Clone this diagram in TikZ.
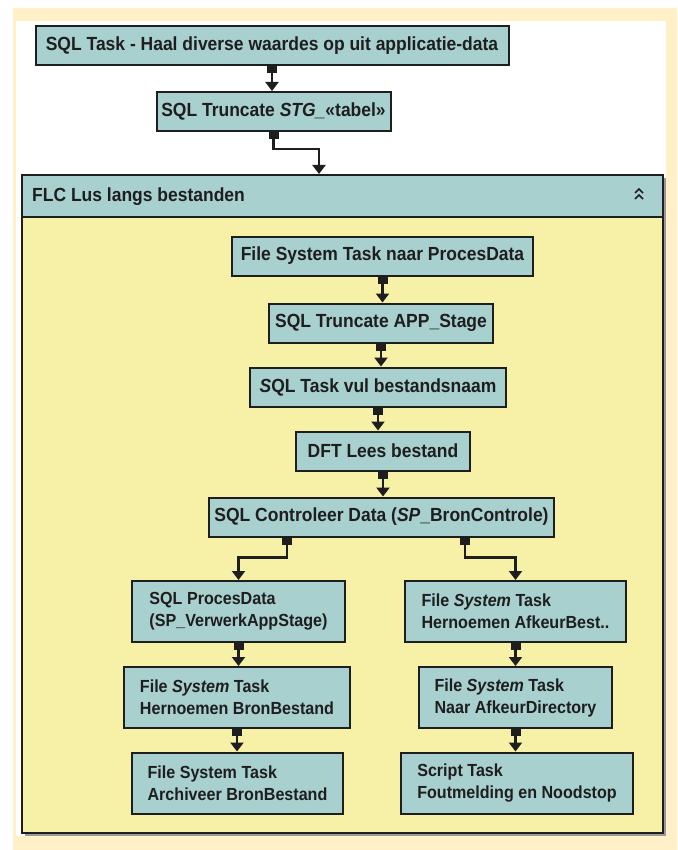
\documentclass[tikz,border=0pt]{standalone}
\usepackage{fontspec}
\setmainfont{Liberation Sans}[FakeStretch=0.92]
\usetikzlibrary{arrows.meta}

\definecolor{cream}{HTML}{FFF0C8}
\definecolor{tealbox}{HTML}{A8D0CE}
\definecolor{paleyel}{HTML}{F6F1A6}
\definecolor{ink}{HTML}{1E1E1E}

\begin{document}
\begin{tikzpicture}[x=1pt, y=-1pt,
  task/.style={draw=ink, line width=2pt, fill=tealbox, text=ink,
    font=\bfseries\fontsize{19}{22}\selectfont, inner sep=0pt, minimum height=39pt},
  twoline/.style={task, align=left, font=\bfseries\fontsize{17.5}{22}\selectfont, minimum height=61pt},
  flow/.style={draw=ink, line width=2.2pt,
    arrows={Square[length=7pt,width=10pt]-Triangle[width=13pt,length=9pt]}}]
  % frame
  \fill[white] (0,0) rectangle (677,850);
  \fill[cream] (13,8) rectangle (677,850);
  \fill[white] (16,21) rectangle (666,836);
  % top tasks
  \node[task, minimum width=473pt] (sqltask) at (272,46) {SQL Task - Haal diverse waardes op uit applicatie-data};
  \node[task, minimum width=234pt] (sqltrunc) at (273.5,111.5) {SQL Truncate \textit{STG\_}«tabel»};
  % loop container
  \fill[black!40] (25,178) rectangle (665.5,835.5);
  \node[draw=ink, line width=2pt, fill=paleyel, minimum width=641pt, minimum height=658pt] (flc) at (342.5,504) {};
  \node[draw=ink, line width=2pt, fill=tealbox, minimum width=641pt, minimum height=42pt] (flchead) at (342.5,196) {};
  \node[anchor=west, inner sep=0pt, text=ink, font=\bfseries\fontsize{19}{22}\selectfont] (flctitle) at (32,197) {FLC Lus langs bestanden};
  \draw[ink, line width=1.5pt] (635,193) -- (639,189) -- (643,193);
  \draw[ink, line width=1.5pt] (635,199) -- (639,195) -- (643,199);
  % tasks in the loop
  \node[task, minimum width=301pt] (fsproc) at (382.5,256) {File System Task naar ProcesData};
  \node[task, minimum width=224pt] (apptrunc) at (381,323) {SQL Truncate APP\_Stage};
  \node[task, minimum width=256pt] (vulnaam) at (378,387) {\textit{S}QL Task vul bestandsnaam};
  \node[task, minimum width=174pt] (lees) at (383,451) {DFT Lees bestand};
  \node[task, minimum width=345pt] (ctrl) at (381.5,517) {SQL Controleer Data (\textit{SP}\_BronControle)};
  % left branch
  \node[twoline, minimum width=213pt] (procdata) at (238.5,611.5) {SQL ProcesData\\(SP\_VerwerkAppStage)};
  \node[twoline, minimum width=226pt] (hernbron) at (237,697.5) {File \textit{System} Task\\Hernoemen BronBestand};
  \node[twoline, minimum width=211pt] (archief) at (237.5,783) {File System Task\\Archiveer BronBestand};
  % right branch
  \node[twoline, minimum width=221pt] (hernafk) at (515.5,611.5) {File \textit{System} Task\\Hernoemen AfkeurBest..};
  \node[twoline, minimum width=193pt] (naarafk) at (515.5,697.5) {File \textit{System} Task\\Naar AfkeurDirectory};
  \node[twoline, minimum width=232pt] (script) at (517,783) {Script Task\\Foutmelding en Noodstop};
  % connectors
  \draw[flow] (sqltask.south) -- (sqltask.south |- sqltrunc.north);
  \draw[flow] (sqltrunc.south) -- ++(0,17) -| ([xshift=-23.5pt]flchead.north);
  \draw[flow] (fsproc.south) -- (fsproc.south |- apptrunc.north);
  \draw[flow] (apptrunc.south) -- (apptrunc.south |- vulnaam.north);
  \draw[flow] (vulnaam.south) -- (vulnaam.south |- lees.north);
  \draw[flow] (lees.south) -- (lees.south |- ctrl.north);
  \draw[flow] ([xshift=-94.5pt]ctrl.south) -- ++(0,20) -| (procdata.north);
  \draw[flow] ([xshift=83.5pt]ctrl.south) -- ++(0,20) -| (hernafk.north);
  \draw[flow] (procdata.south) -- (procdata.south |- hernbron.north);
  \draw[flow] (hernbron.south) -- (hernbron.south |- archief.north);
  \draw[flow] (hernafk.south) -- (hernafk.south |- naarafk.north);
  \draw[flow] (naarafk.south) -- (naarafk.south |- script.north);
\end{tikzpicture}
\end{document}
